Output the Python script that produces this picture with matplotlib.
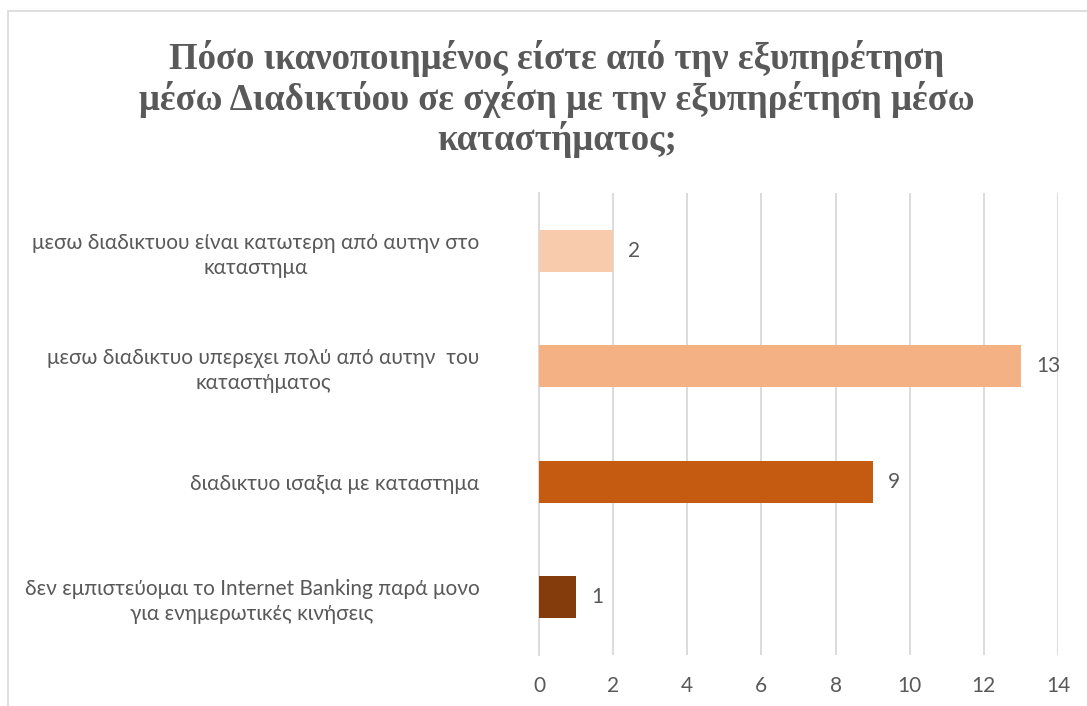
import matplotlib
matplotlib.use("Agg")
import matplotlib.pyplot as plt
from matplotlib.patches import Rectangle

# data, bottom to top as drawn
categories = [
    "δεν εμπιστεύομαι το Internet Banking παρά μονο\nγια ενημερωτικές κινήσεις",
    "διαδικτυο ισαξια με καταστημα",
    "μεσω διαδικτυο υπερεχει πολύ από αυτην  του\nκαταστήματος",
    "μεσω διαδικτυου είναι κατωτερη από αυτην στο\nκαταστημα",
]
counts = [1, 9, 13, 2]
bar_colors = ["#843C0C", "#C55A11", "#F4B183", "#F8CBAD"]
xticks = [0, 2, 4, 6, 8, 10, 12, 14]
title = ("Πόσο ικανοποιημένος είστε από την εξυπηρέτηση\n"
         "μέσω Διαδικτύου σε σχέση με την εξυπηρέτηση μέσω\n"
         "καταστήματος;")

text_color = "#595959"
grid_color = "#D9D9D9"
label_font = "Lato"
fs = 15

fig = plt.figure(figsize=(10.87, 7.06), dpi=100)
ax = fig.add_axes([539 / 1087, 51 / 706, 519 / 1087, 462 / 706])

# chart border like the office frame
fig.patches.append(Rectangle((8 / 1087, -0.1), 1.2, 1 - 11 / 706 + 0.1,
                             transform=fig.transFigure, fill=False,
                             edgecolor=grid_color, linewidth=1.2))

ypos = list(range(len(categories)))
ax.barh(ypos, counts, height=0.36, color=bar_colors, zorder=3)
for y, v in zip(ypos, counts):
    ax.annotate(str(v), (v, y), xytext=(11, 0), textcoords="offset points",
                va="center", ha="left", fontsize=fs, color=text_color,
                family=label_font)

ax.set_xlim(0, 14)
ax.set_ylim(-0.5, len(categories) - 0.5)
ax.set_xticks(xticks)
ax.set_yticks(ypos)
ax.set_yticklabels(categories, fontsize=fs, color=text_color,
                   family=label_font, multialignment="center", linespacing=1.3)
ax.set_xticklabels([str(t) for t in xticks], fontsize=fs, color=text_color,
                   family=label_font)
ax.tick_params(axis="y", length=0, pad=43)
ax.tick_params(axis="x", length=0, pad=15)
ax.grid(axis="x", color=grid_color, linewidth=1.3, zorder=0)
for s in ["top", "right", "bottom"]:
    ax.spines[s].set_visible(False)
ax.spines["left"].set_color(grid_color)
ax.spines["left"].set_linewidth(1.3)

fig.text(557 / 1087, 1 - 99 / 706, title, ha="center", va="center",
         fontsize=26.5, fontweight="bold", family="Liberation Serif",
         color=text_color, linespacing=1.12)

fig.savefig("out.png", dpi=100)
